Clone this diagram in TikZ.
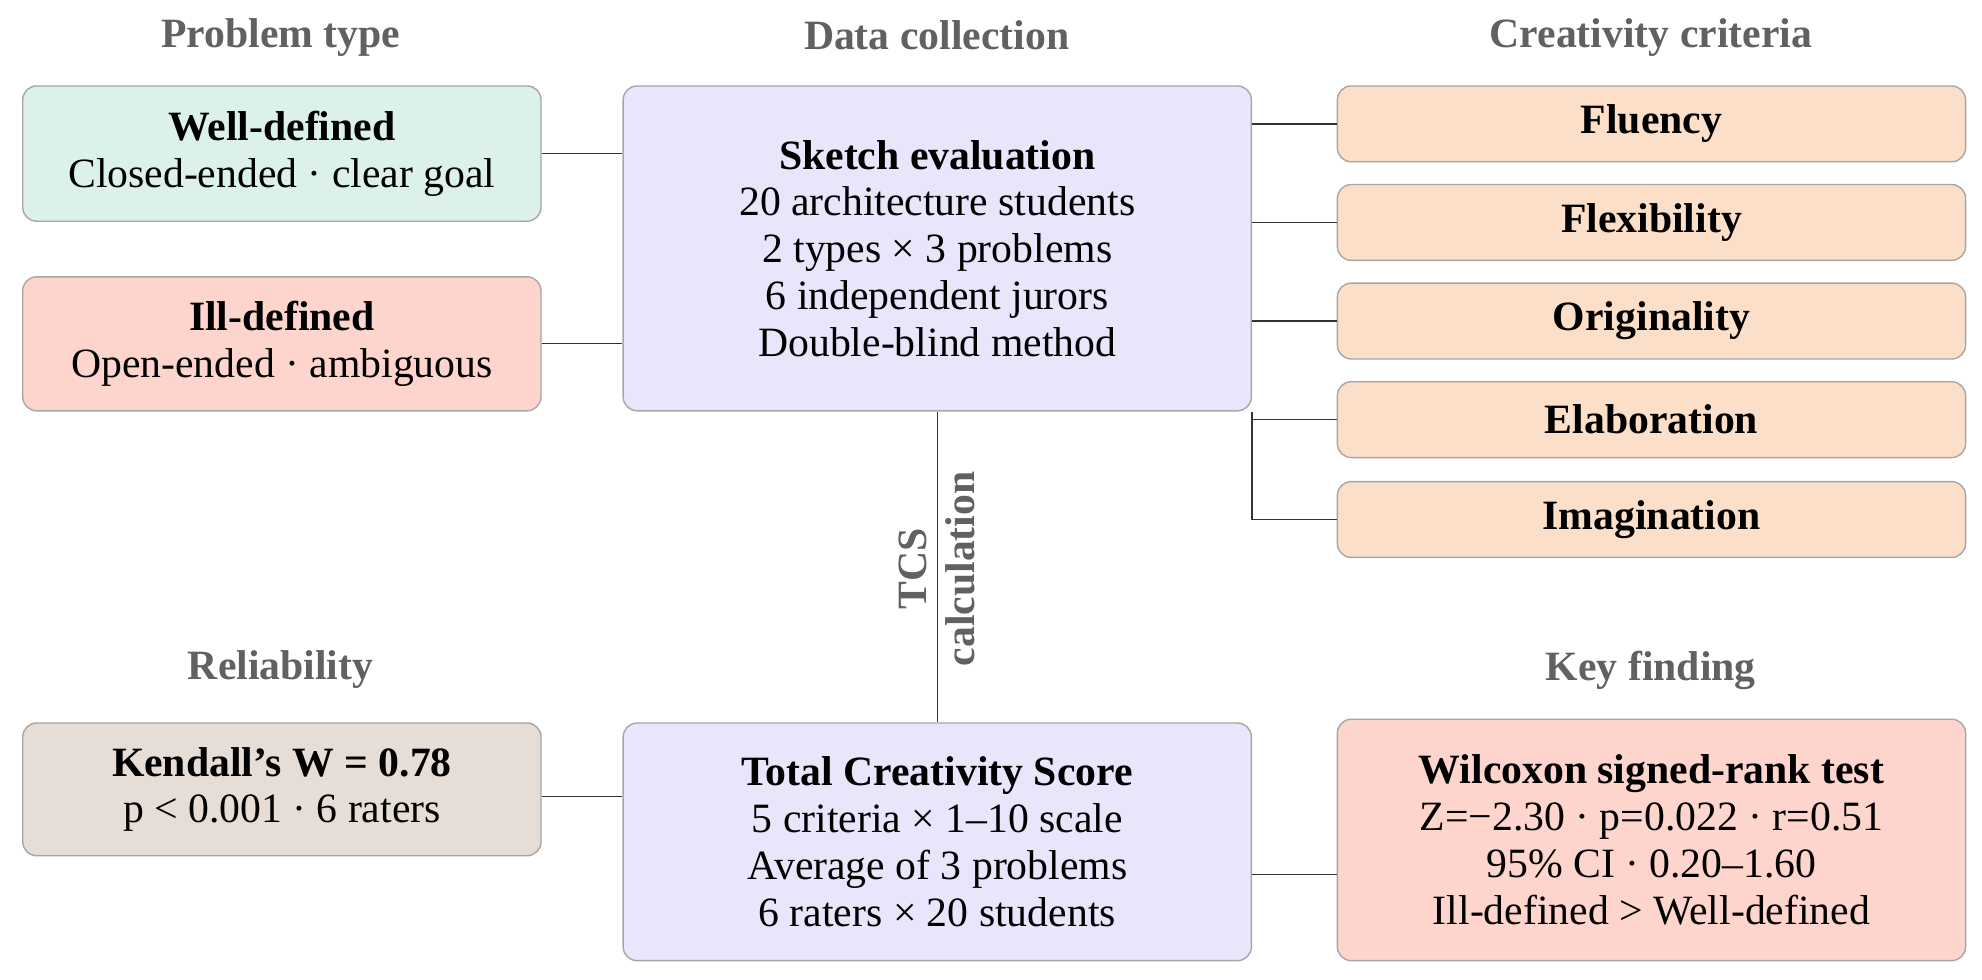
\documentclass[tikz,border=0pt]{standalone}
\usepackage{fontspec}
\setmainfont{Liberation Serif}
\begin{document}
\begin{tikzpicture}[x=1pt,y=-1pt,
 box/.style={draw=black!35,line width=1.1pt,rounded corners=11pt,align=center,font=\fontsize{33}{37}\selectfont,inner sep=0pt},
 crit/.style={box,fill=peach,minimum width=497pt,minimum height=60pt,font=\fontsize{33}{37}\selectfont\bfseries},
 ttl/.style={font=\fontsize{33}{38}\selectfont\bfseries,text=black!62},
 ln/.style={draw=black!80,line width=1pt}]
\definecolor{mint}{HTML}{DCF2E9}
\definecolor{salmon}{HTML}{FDD5CC}
\definecolor{lav}{HTML}{E8E6FB}
\definecolor{peach}{HTML}{FCDFC8}
\definecolor{taupe}{HTML}{E6DDD6}
\fill[white] (0,0) rectangle (1568,775);
\useasboundingbox (0,0) rectangle (1568,775);
% titles
\node[ttl] (t1) at (222,30) {Problem type};
\node[ttl] (t2) at (741,28) {Data collection};
\node[ttl] (t3) at (1306,30) {Creativity criteria};
\node[ttl] (t4) at (222,530) {Reliability};
\node[ttl] (t5) at (1306,530) {Key finding};
% boxes
\node[box,fill=mint,minimum width=410pt,minimum height=107pt] (wd) at (223,121.5) {\textbf{Well-defined}\\Closed-ended · clear goal};
\node[box,fill=salmon,minimum width=410pt,minimum height=106pt] (id) at (223,272) {\textbf{Ill-defined}\\Open-ended · ambiguous};
\node[box,fill=lav,minimum width=497pt,minimum height=257pt] (se) at (741.5,196.5) {\textbf{Sketch evaluation}\\20 architecture students\\2 types × 3 problems\\6 independent jurors\\Double-blind method};
\node[crit] (c1) at (1306.5,98) {Fluency};
\node[crit] (c2) at (1306.5,176) {Flexibility};
\node[crit] (c3) at (1306.5,254) {Originality};
\node[crit] (c4) at (1306.5,332) {Elaboration};
\node[crit] (c5) at (1306.5,411) {Imagination};
\node[box,fill=taupe,minimum width=410pt,minimum height=105pt] (kw) at (223,624.5) {\textbf{Kendall's W = 0.78}\\p < 0.001 · 6 raters};
\node[box,fill=lav,minimum width=497pt,minimum height=188pt] (tcs) at (741.5,666) {\textbf{Total Creativity Score}\\5 criteria × 1–10 scale\\Average of 3 problems\\6 raters × 20 students};
\node[box,fill=salmon,minimum width=497pt,minimum height=191pt] (wx) at (1306.5,664.5) {\textbf{Wilcoxon signed-rank test}\\Z=−2.30 · p=0.022 · r=0.51\\95\% CI · 0.20–1.60\\Ill-defined > Well-defined};
% connectors
\draw[ln] (wd.east) -- (wd.east -| se.west);
\draw[ln] (id.east) -- (id.east -| se.west);
\draw[ln] (c1.west -| se.east) -- (c1.west);
\draw[ln] (c2.west -| se.east) -- (c2.west);
\draw[ln] (c3.west -| se.east) -- (c3.west);
\coordinate (b1) at (se.south east);
\draw[ln] (b1) |- (c5.west);
\draw[ln] (c4.west -| se.east) -- (c4.west);
\draw[ln] (se.south) -- (tcs.north);
\node[ttl,rotate=90,align=center] (lbl) at (741,450) {TCS\\calculation};
\draw[ln] (kw.east |- 0,630) -- (tcs.west |- 0,630);
\draw[ln] (tcs.east |- 0,692) -- (wx.west |- 0,692);
\end{tikzpicture}
\end{document}
